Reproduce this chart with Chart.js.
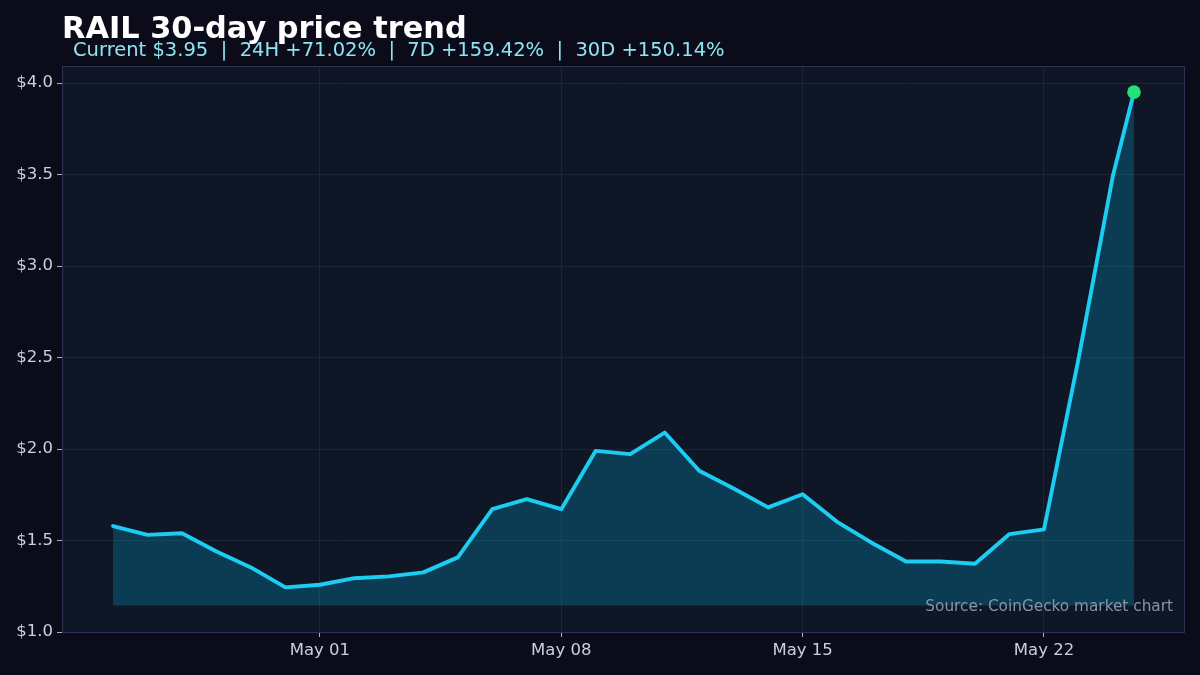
<!DOCTYPE html>
<html>
<head>
<meta charset="utf-8">
<script src="https://cdn.jsdelivr.net/npm/chart.js@4.4.1/dist/chart.umd.min.js"></script>
<style>
  html, body { margin: 0; padding: 0; background: #0b0b1a; }
  #wrap { width: 1200px; height: 675px; position: relative; }
</style>
</head>
<body>
<div id="wrap"><canvas id="c" width="1200" height="675"></canvas></div>
<script>
// Day offsets from Apr 25 (0 = Apr 25)
const days = [0,1,2,3,4,5,6,7,8,9,10,11,12,13,14,15,16,17,18,19,20,21,22,23,24,25,26,27,28,29,29.61];
const prices = [1.579,1.531,1.540,1.440,1.353,1.244,1.258,1.294,1.304,1.326,1.408,1.671,1.726,1.671,1.990,1.972,2.090,1.881,1.784,1.681,1.753,1.602,1.488,1.385,1.385,1.373,1.535,1.561,2.491,3.494,3.95];
const xTickDays = [6,13,20,27];
const xTickLabels = ['May 01','May 08','May 15','May 22'];
const yTicks = [1.0,1.5,2.0,2.5,3.0,3.5,4.0];
const fillBase = 1.145;
const titleText = 'RAIL 30-day price trend';
const subtitleText = 'Current $3.95  |  24H +71.02%  |  7D +159.42%  |  30D +150.14%';
const sourceText = 'Source: CoinGecko market chart';

const FONT = "'DejaVu Sans', sans-serif";

const bgPlugin = {
  id: 'bgPlugin',
  beforeDraw(chart) {
    const ctx = chart.ctx, a = chart.chartArea;
    ctx.save();
    ctx.fillStyle = '#0b0b1a';
    ctx.fillRect(0, 0, chart.width, chart.height);
    ctx.fillStyle = '#0f1727';
    ctx.fillRect(a.left, a.top, a.right - a.left, a.bottom - a.top);
    ctx.restore();
  },
  afterDraw(chart) {
    const ctx = chart.ctx, a = chart.chartArea;
    ctx.save();
    ctx.strokeStyle = '#2a3350';
    ctx.lineWidth = 1;
    ctx.strokeRect(a.left + 0.5, a.top + 0.5, a.right - a.left - 1, a.bottom - a.top);
    ctx.fillStyle = '#ffffff';
    ctx.font = "bold 30.4px " + FONT;
    ctx.textBaseline = 'alphabetic';
    ctx.textAlign = 'left';
    ctx.fillText(titleText, 62, 38);
    ctx.fillStyle = '#8ee5f2';
    ctx.font = "19.5px " + FONT;
    ctx.fillText(subtitleText, 73, 56);
    ctx.fillStyle = '#8a94a6';
    ctx.font = "15.3px " + FONT;
    ctx.textAlign = 'right';
    ctx.fillText(sourceText, 1173, 611);
    ctx.restore();
  }
};

const pts = days.map((d, i) => ({ x: d, y: prices[i] }));
const lastIdx = pts.length - 1;

new Chart(document.getElementById('c'), {
  type: 'line',
  data: {
    datasets: [{
      data: pts,
      borderColor: '#1ccdf2',
      borderWidth: 3.9,
      backgroundColor: 'rgba(0,180,225,0.24)',
      fill: { value: fillBase },
      tension: 0,
      borderJoinStyle: 'round',
      borderCapStyle: 'round',
      pointRadius: ctx => ctx.dataIndex === lastIdx ? 6.8 : 0,
      pointBackgroundColor: '#22e27a',
      pointBorderWidth: 0,
      pointHoverRadius: 0
    }]
  },
  options: {
    responsive: false,
    animation: false,
    layout: { padding: { top: 66, right: 15, left: 0, bottom: 0 } },
    plugins: { legend: { display: false }, tooltip: { enabled: false }, title: { display: false } },
    scales: {
      x: {
        type: 'linear',
        min: -1.48,
        max: 31.09,
        afterFit(s) { s.height = 43; },
        afterBuildTicks(s) { s.ticks = xTickDays.map(v => ({ value: v })); },
        grid: { color: '#1c2637', lineWidth: 1, drawTicks: true, tickLength: 5, tickColor: '#aab3c2' },
        border: { display: false },
        ticks: {
          color: '#c8d0dc',
          font: { family: FONT, size: 16.5 },
          padding: 4,
          maxRotation: 0,
          callback: (v) => { const i = xTickDays.indexOf(v); return i >= 0 ? xTickLabels[i] : ''; }
        }
      },
      y: {
        type: 'linear',
        min: 1.0,
        max: 4.093,
        afterFit(s) { s.width = 62; },
        afterBuildTicks(s) { s.ticks = yTicks.map(v => ({ value: v })); },
        grid: { color: '#1c2637', lineWidth: 1, drawTicks: true, tickLength: 5, tickColor: '#aab3c2' },
        border: { display: false },
        ticks: {
          color: '#c8d0dc',
          font: { family: FONT, size: 16.5 },
          padding: 4,
          callback: (v) => '$' + Number(v).toFixed(1)
        }
      }
    }
  },
  plugins: [bgPlugin]
});
</script>
</body>
</html>
